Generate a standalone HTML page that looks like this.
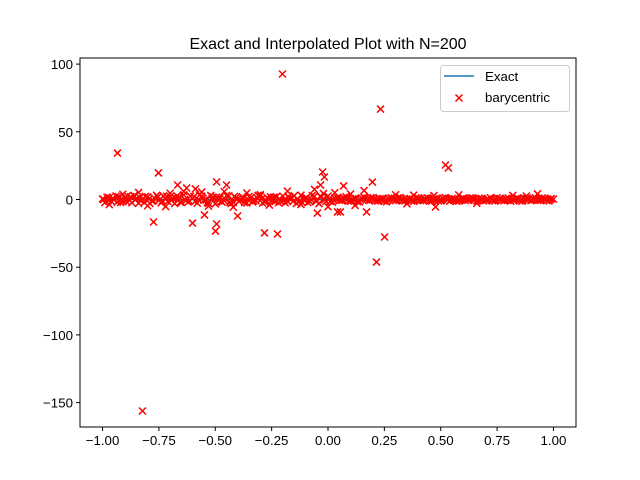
<!DOCTYPE html>
<html><head><meta charset="utf-8"><style>
body{margin:0;background:#fff}
svg{display:block;font-family:"Liberation Sans","DejaVu Sans",sans-serif}
</style></head><body>
<svg id="chart" width="640" height="480" viewBox="0 0 640 480">
<rect width="640" height="480" fill="#fff"/>
<text x="328" y="49" text-anchor="middle" font-size="16">Exact and Interpolated Plot with N=200</text>
<g id="plot"></g>
<rect x="80" y="58" width="496" height="369" fill="none" stroke="#000" stroke-width="1"/>
<g id="xticks"></g><g id="yticks"></g>
<g>
<rect x="440.5" y="65.5" width="129" height="46" rx="3" fill="#fff" fill-opacity="0.8" stroke="#ccc"/>
<line x1="444" y1="76" x2="474" y2="76" stroke="#1f77b4" stroke-width="1.5"/>
<text x="485" y="81" font-size="13.3">Exact</text>
<path d="M455.5,94.5 l7,7 M462.5,94.5 l-7,7" stroke="red" stroke-width="1.5"/>
<text x="485" y="102" font-size="13.3">barycentric</text>
</g>
</svg>
<script>
const xTicks=[-1.00,-0.75,-0.50,-0.25,0.00,0.25,0.50,0.75,1.00];
const xTickLabels=["−1.00","−0.75","−0.50","−0.25","0.00","0.25","0.50","0.75","1.00"];
const yTicks=[100,50,0,-50,-100,-150];
const yTickLabels=["100","50","0","−50","−100","−150"];
const exactX=[-1,1];
const exactY=[0,0];
const bandX=[-1.00,-0.98,-0.96,-0.94,-0.92,-0.90,-0.88,-0.86,-0.84,-0.82,-0.80,-0.78,-0.76,-0.74,-0.72,-0.70,-0.68,-0.66,-0.64,-0.62,-0.60,-0.58,-0.56,-0.54,-0.52,-0.50,-0.48,-0.46,-0.44,-0.42,-0.40,-0.38,-0.36,-0.34,-0.32,-0.30,-0.28,-0.26,-0.24,-0.22,-0.20,-0.18,-0.16,-0.14,-0.12,-0.10,-0.08,-0.06,-0.04,-0.02,0.00,0.02,0.04,0.06,0.08,0.10,0.12,0.14,0.16,0.18,0.20,0.22,0.24,0.26,0.28,0.30,0.32,0.34,0.36,0.38,0.40,0.42,0.44,0.46,0.48,0.50,0.52,0.54,0.56,0.58,0.60,0.62,0.64,0.66,0.68,0.70,0.72,0.74,0.76,0.78,0.80,0.82,0.84,0.86,0.88,0.90,0.92,0.94,0.96,0.98,1.00,
-0.99,-0.97,-0.95,-0.93,-0.91,-0.89,-0.87,-0.85,-0.83,-0.81,-0.79,-0.77,-0.75,-0.73,-0.71,-0.69,-0.67,-0.65,-0.63,-0.61,-0.59,-0.57,-0.55,-0.53,-0.51,-0.49,-0.47,-0.45,-0.43,-0.41,-0.39,-0.37,-0.35,-0.33,-0.31,-0.29,-0.27,-0.25,-0.23,-0.21,-0.19,-0.17,-0.15,-0.13,-0.11,-0.09,-0.07,-0.05,-0.03,-0.01,0.01,0.03,0.05,0.07,0.09,0.11,0.13,0.15,0.17,0.19,0.21,0.23,0.25,0.27,0.29,0.31,0.33,0.35,0.37,0.39,0.41,0.43,0.45,0.47,0.49,0.51,0.53,0.55,0.57,0.59,0.61,0.63,0.65,0.67,0.69,0.71,0.73,0.75,0.77,0.79,0.81,0.83,0.85,0.87,0.89,0.91,0.93,0.95,0.97,0.99,
-0.995,-0.975,-0.955,-0.935,-0.915,-0.895,-0.875,-0.855,-0.835,-0.815,-0.795,-0.775,-0.755,-0.735,-0.715,-0.695,-0.675,-0.655,-0.635,-0.615,-0.595,-0.575,-0.555,-0.535,-0.515,-0.495,-0.475,-0.455,-0.435,-0.415,-0.395,-0.375,-0.355,-0.335,-0.315,-0.295,-0.275,-0.255,-0.235,-0.215,-0.195,-0.175,-0.155,-0.135,-0.115,-0.095,-0.075,-0.055,-0.035,-0.015,0.005,0.025,0.045,0.065,0.085,0.105,0.125,0.145,0.165,0.185,0.205,0.225,0.245,0.265,0.285,0.305,0.325,0.345,0.365,0.385,0.405,0.425,0.445,0.465,0.485,0.505,0.525,0.545,0.565,0.585,0.605,0.625,0.645,0.665,0.685,0.705,0.725,0.745,0.765,0.785,0.805,0.825,0.845,0.865,0.885,0.905,0.925,0.945,0.965,0.985];
const bandY=[0.4,1.8,-1.5,2.6,-2.2,1.1,-0.6,2.9,-2.8,0.7,1.9,-1.2,3.1,-2.5,0.3,2.2,-3.0,1.5,3.4,-1.8,0.9,-2.7,2.4,-0.4,3.0,-3.2,1.3,-1.0,2.7,-2.1,0.6,2.0,-2.6,1.6,-0.9,2.8,-1.9,0.2,1.7,-2.4,2.5,-1.4,0.8,-2.9,3.2,1.0,-1.6,2.3,-3.1,0.5,2.6,-2.0,1.2,-0.7,2.1,-1.3,0.9,-1.8,1.6,-0.5,1.4,-1.1,0.6,-1.7,1.2,-0.8,1.5,-1.0,0.4,-1.4,1.1,-0.6,1.3,-1.2,0.7,-0.9,1.4,-1.3,0.5,-1.1,1.0,-0.4,1.2,-1.0,0.8,-0.7,1.3,-1.2,0.6,-0.9,1.1,-0.5,1.0,-1.3,0.7,-0.8,1.2,-0.6,0.9,-1.1,0.3,
-2.3,1.4,-0.2,2.1,-1.6,2.8,-2.4,0.5,-1.1,2.3,-2.9,1.0,-0.7,2.6,-1.5,0.9,2.7,-2.2,-0.8,2.4,-1.4,3.3,-0.5,-2.8,1.8,0.6,-1.9,2.9,-3.0,1.1,-0.3,-2.3,2.2,-1.0,3.1,-2.6,1.4,-0.6,2.0,-1.2,-2.5,0.7,2.8,-1.7,0.1,-2.2,3.0,-0.9,1.9,-1.5,-1.4,0.9,-0.6,1.5,-1.2,0.4,-1.6,1.1,-0.3,1.4,-1.0,0.7,-1.3,1.0,-0.5,1.2,-0.9,0.3,-1.1,1.3,-0.7,0.9,-1.2,0.5,-1.0,1.1,-0.4,0.8,-1.3,0.6,-0.8,1.2,-0.5,1.0,-1.1,0.4,-0.9,1.3,-0.6,0.8,-1.2,0.5,-1.0,1.1,-0.3,0.9,-0.7,1.2,-0.8,0.6,
0.0,-0.8,1.0,-2.0,0.5,-1.3,2.1,-0.2,1.4,-2.1,0.3,-0.9,1.8,-1.1,2.4,-0.6,0.8,-1.9,0.1,-1.0,2.2,-0.3,1.0,-2.2,0.4,1.7,-1.4,0.2,-2.0,2.3,-1.5,0.8,-0.2,-1.8,1.3,0.4,-0.8,2.0,-1.6,0.6,-0.5,1.8,-1.4,0.3,-2.1,1.2,0.0,-1.0,2.4,-0.2,0.2,-0.5,0.8,-0.3,0.5,-0.8,0.6,-0.2,0.9,-0.6,0.3,-0.7,0.5,-0.4,0.8,-0.2,0.4,-0.6,0.7,-0.3,0.2,-0.8,0.6,-0.1,0.5,-0.5,0.7,-0.2,0.3,-0.6,0.4,-0.3,0.6,-0.7,0.2,-0.4,0.5,-0.2,0.7,-0.5,0.1,-0.6,0.4,-0.3,0.6,-0.5,0.2,-0.4,0.5,-0.1];
const outX=[-0.202,0.233,0.215,-0.823,-0.934,-0.752,-0.667,-0.627,-0.588,-0.494,-0.450,-0.024,-0.016,-0.033,-0.774,-0.601,-0.548,-0.494,-0.499,-0.401,-0.282,-0.224,-0.047,0.042,0.521,0.534,0.069,0.197,0.171,0.055,0.251,0.477,0.929,-0.91,-0.84,-0.70,-0.64,-0.56,-0.46,-0.36,-0.30,-0.18,-0.06,-0.02,0.03,0.10,0.16,0.30,0.38,0.47,0.58,0.82,0.88,-0.97,-0.80,-0.72,-0.53,-0.42,-0.26,-0.12,0.00,0.12,0.35,0.66];
const outY=[92.7,66.8,-46.2,-156.2,34.3,19.6,10.7,8.5,7.8,13.0,10.7,20.3,16.6,10.7,-16.6,-17.4,-11.4,-18.1,-23.3,-12.2,-24.7,-25.5,-10.0,-9.2,25.5,23.3,10.0,12.9,-9.2,-9.2,-27.7,-5.5,4.1,3.9,5.2,4.6,6.0,5.5,5.8,4.8,3.6,6.2,7.5,4.4,5.1,4.0,6.6,3.5,3.2,2.9,3.4,3.0,2.6,-3.8,-4.6,-5.2,-4.9,-5.6,-4.1,-3.7,-5.3,-4.4,-3.2,-2.8];
const X0=-1.1,X1=1.1;
const L=80,R=576,T=58,B=427;
const sx=v=>L+(v-X0)/(X1-X0)*(R-L);
const sy=v=>199.5-v*(67.7/50);
const NS="http://www.w3.org/2000/svg";
const plot=document.getElementById('plot');
function mk(tag,attrs,parent){const e=document.createElementNS(NS,tag);for(const k in attrs)e.setAttribute(k,attrs[k]);parent.appendChild(e);return e;}
const ex=mk('polyline',{points:exactX.map((x,i)=>sx(x)+','+sy(exactY[i])).join(' '),fill:'none',stroke:'#1f77b4','stroke-width':1.5},plot);


function marker(x,y,name){
  const cx=sx(x),cy=sy(y);
  const p=mk('path',{d:`M${cx-3.5},${cy-3.5} l7,7 M${cx+3.5},${cy-3.5} l-7,7`,stroke:'red','stroke-width':1.5,fill:'none'},plot);
  
  
}
bandX.forEach((x,i)=>marker(x,bandY[i],'barycentric-point'));
outX.forEach((x,i)=>marker(x,outY[i],'barycentric-outlier'));
const xt=document.getElementById('xticks');
xTicks.forEach((v,i)=>{
  const x=sx(v);
  const t=mk('line',{x1:x,y1:B,x2:x,y2:B+4,stroke:'#000'},xt);
  
  
  const l=mk('text',{x:x,y:B+18,'text-anchor':'middle','font-size':13.3},xt);
  l.textContent=xTickLabels[i];
  
  
});
const yt=document.getElementById('yticks');
yTicks.forEach((v,i)=>{
  const y=sy(v);
  const t=mk('line',{x1:L-4,y1:y,x2:L,y2:y,stroke:'#000'},yt);
  
  
  const l=mk('text',{x:L-7,y:y+5,'text-anchor':'end','font-size':13.3},yt);
  l.textContent=yTickLabels[i];
  
  
});
</script>
</body></html>
